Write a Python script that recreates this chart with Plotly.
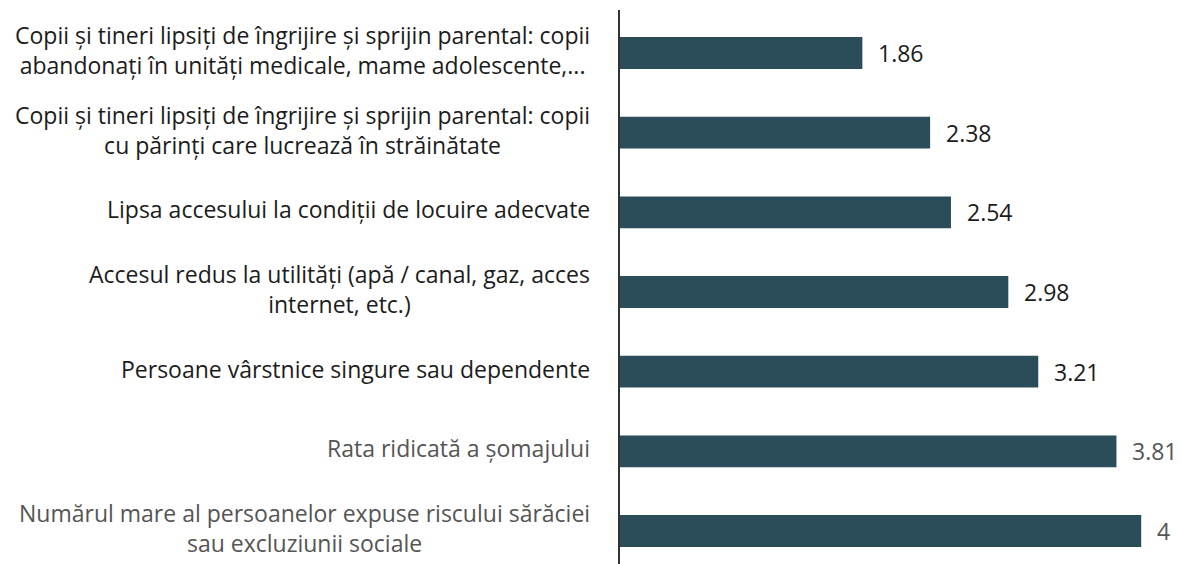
import plotly.graph_objects as go

categories = [
    "Copii și tineri lipsiți de îngrijire și sprijin parental: copii<br>abandonați în unități medicale, mame adolescente,...",
    "Copii și tineri lipsiți de îngrijire și sprijin parental: copii<br>cu părinți care lucrează în străinătate",
    "Lipsa accesului la condiții de locuire adecvate",
    "Accesul redus la utilități (apă / canal, gaz, acces<br>internet, etc.)",
    "Persoane vârstnice singure sau dependente",
    "Rata ridicată a șomajului",
    "Numărul mare al persoanelor expuse riscului sărăciei<br>sau excluziunii sociale",
]
values = [1.86, 2.38, 2.54, 2.98, 3.21, 3.81, 4]
value_labels = ["1.86", "2.38", "2.54", "2.98", "3.21", "3.81", "4"]
label_colors = ["#1c1c1c", "#1c1c1c", "#1c1c1c", "#1c1c1c", "#1c1c1c", "#555555", "#555555"]

FONT = "'Open Sans', Lato, sans-serif"
BAR_COLOR = "#2b4d59"

positions = list(range(len(categories)))

fig = go.Figure(
    go.Bar(
        x=values,
        y=positions,
        orientation="h",
        marker=dict(color=BAR_COLOR, line=dict(width=0)),
        width=0.4,
        hoverinfo="skip",
    )
)

# category labels: right-aligned block, lines centred within it
for p, lab, c in zip(positions, categories, label_colors):
    fig.add_annotation(
        xref="paper", x=0, y=p, text=lab, showarrow=False,
        xanchor="right", yanchor="middle", align="center",
        xshift=-28, yshift=3,
        font=dict(family=FONT, size=23, color=c),
    )

# value labels at the end of each bar
for v, p, lab, c in zip(values, positions, value_labels, label_colors):
    fig.add_annotation(
        x=v, y=p, text=lab, showarrow=False,
        xanchor="left", yanchor="middle", xshift=14,
        font=dict(family=FONT, size=23, color=c),
    )

fig.update_layout(
    width=1182,
    height=564,
    margin=dict(l=620, r=0, t=10, b=0),
    paper_bgcolor="white",
    plot_bgcolor="white",
    showlegend=False,
    font=dict(family=FONT, size=23, color="#1c1c1c"),
)
fig.update_xaxes(
    range=[0, 4.313], visible=False, showgrid=False, zeroline=False,
)
fig.update_yaxes(
    range=[6.414, -0.54],
    tickvals=positions,
    showticklabels=False,
    showgrid=False,
    zeroline=False,
    showline=True,
    linecolor="#333333",
    linewidth=1.5,
    ticks="",
)

fig.write_html("out.html")
